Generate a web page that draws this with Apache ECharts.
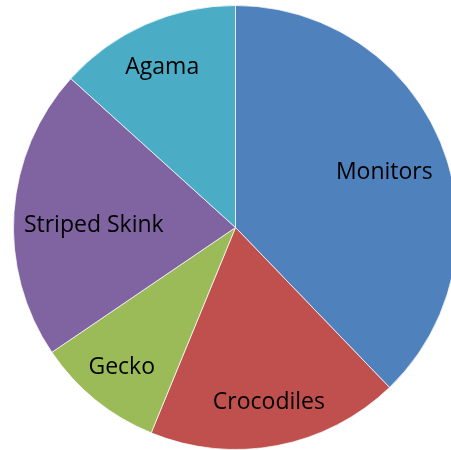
<!DOCTYPE html>
<html>
<head>
<meta charset="utf-8">
<script src="https://cdn.jsdelivr.net/npm/echarts@6/dist/echarts.min.js"></script>
<style>
html,body{margin:0;padding:0;background:#fff;}
#chart{width:451px;height:450px;}
</style>
</head>
<body>
<div id="chart"></div>
<script>
const categories = ['Monitors', 'Crocodiles', 'Gecko', 'Striped Skink', 'Agama'];
const values = [37.8, 18.4, 9.3, 21.2, 13.3];
const colors = ['#4F81BD', '#C0504D', '#9BBB59', '#8064A2', '#4BACC6'];
const labelRadiusRatio = [0.714, 0.79, 0.80, 0.64, 0.80];
const labelNudgeX = [-1, 0, 0, 3, 0];
const labelNudgeY = [5, 0, 0, 8, 5];

const R = 222;
const total = values.reduce((a, b) => a + b, 0);
let acc = 0;
const data = categories.map((name, i) => {
  const a0 = acc / total * Math.PI * 2;
  acc += values[i];
  const a1 = acc / total * Math.PI * 2;
  const mid = (a0 + a1) / 2;
  const d = (labelRadiusRatio[i] - 0.5) * R;
  return {
    name: name,
    value: values[i],
    itemStyle: { color: colors[i] },
    label: { offset: [Math.sin(mid) * d + labelNudgeX[i], -Math.cos(mid) * d + labelNudgeY[i]] }
  };
});

const chart = echarts.init(document.getElementById('chart'), null, { renderer: 'canvas' });
chart.setOption({
  backgroundColor: '#ffffff',
  animation: false,
  series: [{
    type: 'pie',
    center: [235.5, 227.5],
    radius: [0, R],
    startAngle: 90,
    clockwise: true,
    avoidLabelOverlap: false,
    itemStyle: { borderColor: 'rgba(255,255,255,0.7)', borderWidth: 1 },
    label: {
      show: true,
      position: 'inside',
      formatter: '{b}',
      color: '#000000',
      fontFamily: 'Open Sans',
      fontSize: 23,
      textBorderWidth: 0
    },
    labelLine: { show: false },
    emphasis: { disabled: true },
    data: data
  }]
});
</script>
</body>
</html>
